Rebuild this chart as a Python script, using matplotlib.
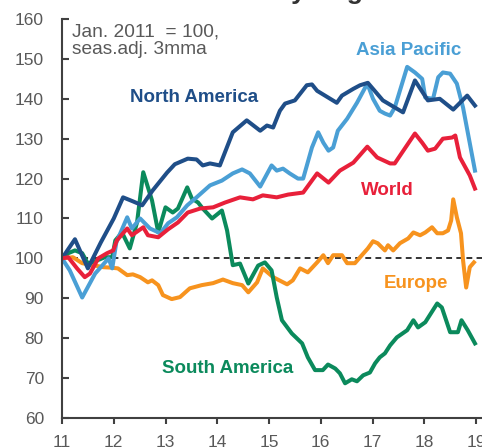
import matplotlib.pyplot as plt
import numpy as np

plt.rcParams['font.family'] = ['Liberation Sans', 'DejaVu Sans']

# positions in years (11 = Jan 2011), values index Jan 2011 = 100
na_x = [11.0, 11.25, 11.5, 11.75, 12.0, 12.18, 12.37, 12.55, 12.75, 13.03, 13.18, 13.43, 13.6, 13.72,
        13.86, 14.05, 14.3, 14.57, 14.83, 14.96, 15.08, 15.21, 15.31, 15.5, 15.73, 15.83, 15.93,
        16.31, 16.41, 16.63, 16.76, 16.91, 17.2, 17.59, 17.82, 18.07, 18.3, 18.56, 18.83, 18.98]
na_y = [100, 104.8, 97.5, 104, 110, 115.3, 114.3, 113.3, 117, 121.5, 123.6, 125, 124.8, 123.3,
        123.8, 123.3, 131.6, 134.6, 132, 133.3, 132.8, 137, 138.8, 139.6, 143.4, 143.6, 142,
        139, 140.8, 142.5, 143.4, 144, 139.6, 136.6, 144.6, 139.6, 140, 137.3, 140.8, 138.3]

ap_x = [11.0, 11.15, 11.39, 11.64, 11.9, 11.97, 12.05, 12.26, 12.35, 12.51, 12.7, 12.9, 13.05, 13.22,
        13.42, 13.6, 13.86, 14.09, 14.3, 14.48, 14.63, 14.83, 15.05, 15.15, 15.27, 15.4, 15.56,
        15.66, 15.83, 15.95, 16.05, 16.15, 16.24, 16.33, 16.51, 16.7, 16.9, 17.01, 17.14, 17.24,
        17.34, 17.43, 17.67, 17.82, 17.96, 18.02, 18.17, 18.27, 18.36, 18.5, 18.63, 18.75, 18.98]
ap_y = [100, 97, 90.2, 96.2, 100, 97.5, 104, 110.3, 107.5, 110, 107.5, 106.3, 108.8, 110.3,
        113.3, 115.3, 118.3, 119.5, 121.3, 122.3, 121.3, 118, 123.3, 122, 122.5, 121.3, 120,
        120, 127.8, 131.6, 129, 127, 127.8, 132, 135, 139, 143.8, 140, 137, 136.3,
        135.8, 137.8, 148, 146.6, 145, 140.3, 140, 145.4, 146.6, 146.3, 143.8, 137.8, 122]

world_x = [11.0, 11.12, 11.29, 11.44, 11.54, 11.7, 11.87, 11.99, 12.06, 12.26, 12.35, 12.57, 12.66,
           12.86, 13.05, 13.24, 13.43, 13.67, 13.92, 14.15, 14.44, 14.69, 14.88, 15.15, 15.37,
           15.66, 15.93, 16.15, 16.37, 16.63, 16.9, 17.09, 17.34, 17.43, 17.57, 17.82, 17.96,
           18.07, 18.21, 18.36, 18.54, 18.6, 18.69, 18.88, 18.98]
world_y = [100, 100.3, 97.5, 95.3, 96.2, 100, 101.3, 102, 104.5, 107.5, 105.8, 107.8, 105.8,
           105.3, 107.3, 109, 111.5, 112.5, 112.8, 114, 115.3, 114.8, 115.8, 115.3, 116,
           116.5, 121.3, 119, 122, 124, 128, 125.3, 123.8, 123.8, 126.5, 131.3, 129,
           127, 127.5, 130, 130.3, 130.8, 125.3, 120.8, 117.5]

eu_x = [11.0, 11.21, 11.39, 11.6, 11.8, 11.93, 12.08, 12.26, 12.37, 12.51, 12.66, 12.74, 12.86,
        12.95, 13.12, 13.28, 13.47, 13.7, 13.92, 14.11, 14.3, 14.48, 14.6, 14.77, 14.88, 15.08,
        15.35, 15.46, 15.6, 15.75, 15.93, 16.05, 16.14, 16.24, 16.41, 16.51, 16.66, 16.76, 16.91,
        17.01, 17.1, 17.24, 17.3, 17.4, 17.53, 17.69, 17.79, 17.92, 18.02, 18.15, 18.25, 18.36,
        18.46, 18.52, 18.56, 18.63, 18.71, 18.75, 18.81, 18.88, 18.96]
eu_y = [100, 100.3, 98.8, 98.3, 97.8, 97.7, 97.5, 95.8, 96, 95.3, 94, 94.5, 93.3,
        90.8, 89.8, 90.3, 92.5, 93.3, 93.8, 94.7, 93.8, 93.3, 91.5, 94, 97.5, 95.3,
        93.5, 94.5, 97.5, 96.5, 99, 100.8, 98.8, 100.8, 100.8, 98.8, 98.8, 100.3, 102.5,
        104.3, 103.8, 102, 103.3, 102, 103.8, 105, 106.5, 105.8, 106.5, 107.8, 106.3, 106.3,
        107, 109.5, 114.8, 110.3, 106.3, 99.5, 92.7, 97.8, 99]

sa_x = [11.0, 11.12, 11.25, 11.39, 11.5, 11.68, 11.83, 11.97, 12.03, 12.16, 12.31, 12.45, 12.57,
        12.74, 12.86, 13.0, 13.14, 13.24, 13.42, 13.51, 13.63, 13.72, 13.9, 14.09, 14.19, 14.3,
        14.44, 14.6, 14.79, 14.92, 15.05, 15.15, 15.25, 15.44, 15.64, 15.75, 15.89, 16.04, 16.14,
        16.28, 16.37, 16.47, 16.6, 16.7, 16.82, 16.95, 17.05, 17.14, 17.24, 17.34, 17.47, 17.67,
        17.79, 17.88, 18.02, 18.25, 18.34, 18.5, 18.65, 18.72, 18.84, 18.98]
sa_y = [100, 101.3, 102, 101.3, 98.7, 99.5, 100.3, 100.3, 104.5, 106.5, 102.5, 109, 121.6,
        114.5, 106.5, 112.8, 111.5, 112.5, 117.8, 115, 114, 112.5, 110, 112, 107, 98.3,
        98.7, 93.7, 98.2, 99, 97, 90.2, 84.5, 81.2, 78.7, 75.2, 72, 72, 73.4,
        72.4, 71.2, 68.7, 69.7, 69.2, 70.7, 71.4, 73.7, 75.2, 76.2, 78.2, 80.2, 82,
        84.5, 82.7, 84, 88.7, 87.7, 81.5, 81.5, 84.5, 82, 78.7]

navy = '#1f4e88'
sky = '#4a9fd5'
red = '#e8203a'
orange = '#f7931e'
green = '#0b8a5c'
grey = '#595959'

fig = plt.figure(figsize=(4.82, 4.47), dpi=100)
ax = fig.add_axes([62/482, 29/447, 420/482, 399/447])

lw = 2.9
ax.axhline(100, color='#333333', lw=1.4, dashes=(3, 2.2), zorder=1)
ax.plot(eu_x, eu_y, color=orange, lw=lw, solid_joinstyle='round')
ax.plot(sa_x, sa_y, color=green, lw=lw, solid_joinstyle='round')
ax.plot(ap_x, ap_y, color=sky, lw=lw, solid_joinstyle='round')
ax.plot(na_x, na_y, color=navy, lw=lw, solid_joinstyle='round')
ax.plot(world_x, world_y, color=red, lw=lw, solid_joinstyle='round')

ax.set_xlim(11, 11 + 420/51.75)
ax.set_ylim(60, 160)
ax.set_xticks(range(11, 20))
ax.set_yticks(range(60, 161, 10))

for s in ['top', 'right']:
    ax.spines[s].set_visible(False)
for s in ['left', 'bottom']:
    ax.spines[s].set_color('#404040')
    ax.spines[s].set_linewidth(1.5)
ax.tick_params(axis='y', direction='in', length=5, width=1.5, color='#404040',
               labelsize=12.5, labelcolor=grey, pad=13)
ax.tick_params(axis='x', direction='out', length=4, width=1.5, color='#404040',
               labelsize=12.5, labelcolor=grey, pad=8)

ax.text(11.2, 158.8, 'Jan. 2011  = 100,\nseas.adj. 3mma', fontsize=13.8, color=grey,
        va='top', ha='left', linespacing=0.98)

lab = dict(fontsize=13.5, fontweight='bold', ha='center', va='baseline')
ax.text(13.55, 139.3, 'North America', color=navy, **lab)
ax.text(17.705, 150.9, 'Asia Pacific', color=sky, **lab)
ax.text(17.28, 115.8, 'World', color=red, **lab)
ax.text(17.84, 92.5, 'Europe', color=orange, **lab)
ax.text(14.21, 71.2, 'South America', color=green, **lab)

# title is cropped off in the reference, only the descenders of "by Region" show
tkw = dict(fontsize=19, fontweight='bold', color='#333333', ha='left', va='baseline')
probe = fig.text(0, 0, 'Industrial Production b', **tkw)
fig.canvas.draw()
w = probe.get_window_extent().width
probe.remove()
fig.text((291 - w)/482, 1.0 + 1.5/447, 'Industrial Production by Region', **tkw)

fig.savefig('out.png', dpi=100)
